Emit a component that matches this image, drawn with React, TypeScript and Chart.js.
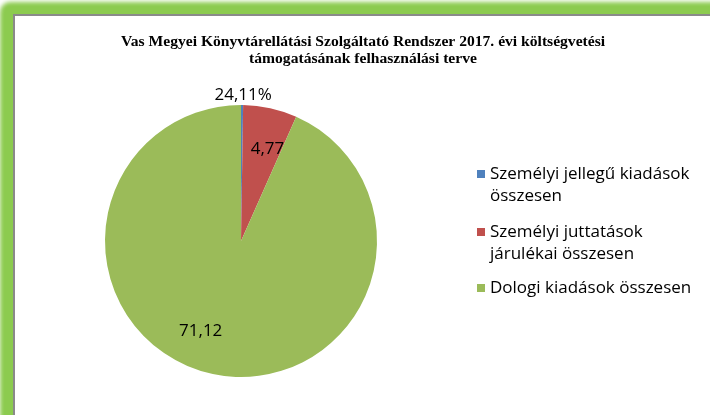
import React, { useEffect, useRef } from "react";
import { Chart, registerables } from "chart.js";

Chart.register(...registerables);

const titleLines = [
  "Vas Megyei Könyvtárellátási Szolgáltató Rendszer 2017. évi költségvetési",
  "támogatásának felhasználási terve",
];
const categories = [
  ["Személyi jellegű kiadások", "összesen"],
  ["Személyi juttatások", "járulékai összesen"],
  ["Dologi kiadások összesen"],
];
const sliceValues = [0.25, 6.4, 93.35];
const dataLabels = ["24,11%", "4,77", "71,12"];
const colors = ["#4F81BD", "#C0504D", "#9BBB59"];

const labelRadial = [1.08, 0.7, 0.72];
const labelShift = [
  [1, 1],
  [6, 1],
  [-20, -6],
];

const overlayPlugin = {
  id: "overlay",
  afterDraw(chart: any) {
    const ctx = chart.ctx;
    ctx.save();
    // title
    ctx.fillStyle = "#000";
    ctx.font = "bold 15.6px 'Liberation Serif', serif";
    ctx.textAlign = "center";
    ctx.textBaseline = "middle";
    ctx.fillText(titleLines[0], 363, 42);
    ctx.fillText(titleLines[1], 363, 59);

    // data labels
    const meta = chart.getDatasetMeta(0);
    ctx.font = "17px 'Open Sans', sans-serif";
    ctx.fillStyle = "#000";
    meta.data.forEach((arc: any, i: number) => {
      const p = arc.getProps(["x", "y", "startAngle", "endAngle", "outerRadius"], true);
      const mid = (p.startAngle + p.endAngle) / 2;
      const r = p.outerRadius * labelRadial[i];
      const x = p.x + Math.cos(mid) * r + labelShift[i][0];
      const y = p.y + Math.sin(mid) * r + labelShift[i][1];
      ctx.fillText(dataLabels[i], x, y);
    });

    // legend
    ctx.textAlign = "left";
    ctx.textBaseline = "middle";
    ctx.font = "17px 'Open Sans', sans-serif";
    const starts = [174, 232, 288];
    categories.forEach((lines, i) => {
      ctx.fillStyle = colors[i];
      ctx.fillRect(477, starts[i] - 4, 8, 8);
      ctx.fillStyle = "#000";
      lines.forEach((ln, j) => ctx.fillText(ln, 490, starts[i] + j * 22));
    });
    ctx.restore();
  },
};

export default function App() {
  const ref = useRef<HTMLCanvasElement>(null);
  useEffect(() => {
    const chart = new Chart(ref.current!, {
      type: "pie",
      data: {
        labels: categories.map((c) => c.join(" ")),
        datasets: [
          {
            data: sliceValues,
            backgroundColor: colors,
            borderWidth: 0,
          },
        ],
      },
      options: {
        animation: false,
        responsive: false,
        layout: { padding: { left: 105, top: 105, right: 333, bottom: 38 } },
        plugins: { legend: { display: false }, title: { display: false }, tooltip: { enabled: false } },
      },
      plugins: [overlayPlugin],
    });
    return () => chart.destroy();
  }, []);
  return (
    <div style={{ position: "fixed", left: 0, top: 0, width: 710, height: 415, overflow: "hidden", background: "#fff" }}>
      <div
        style={{
          position: "absolute",
          left: 0,
          top: 2,
          width: 900,
          height: 600,
          borderRadius: 10,
          background: "#8CCB4F",
          filter: "blur(2px)",
        }}
      />
      <div
        style={{
          position: "absolute",
          left: 13,
          top: 14,
          width: 900,
          height: 600,
          background: "#fff",
          borderLeft: "2px solid #8a8a8a",
          borderTop: "2px solid #8a8a8a",
        }}
      />
      <canvas ref={ref} width={710} height={415} style={{ position: "absolute", left: 0, top: 0 }} />
    </div>
  );
}
